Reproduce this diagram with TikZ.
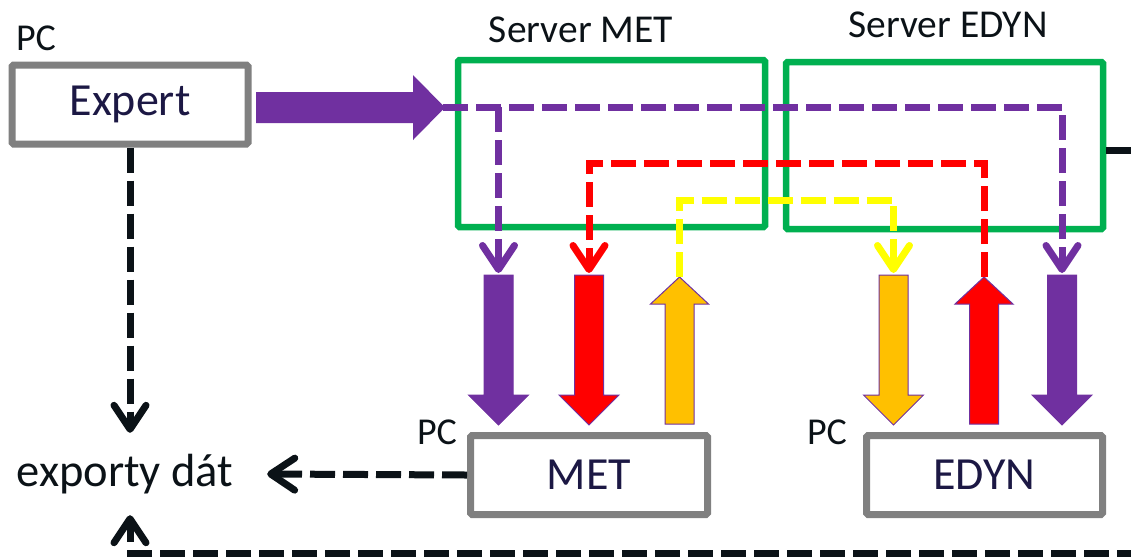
\documentclass[tikz,border=0pt]{standalone}
\usepackage{fontspec}
\setmainfont{Carlito}
\usetikzlibrary{arrows.meta}
\definecolor{pur}{HTML}{7030A0}
\definecolor{grn}{HTML}{00B050}
\definecolor{gry}{HTML}{808080}
\definecolor{org}{HTML}{FFC000}
\definecolor{ylw}{HTML}{FFFF00}
\definecolor{navy}{HTML}{1C1844}
\definecolor{ink}{HTML}{0B1217}
\newcommand{\myarrdown}[3]{%
  \fill[#2,draw=pur,line width=1pt] (#1-14.5,275) -- (#1+14.5,275) -- (#1+14.5,395) -- (#1+30,395) -- (#1,425) -- (#1-30,395) -- (#1-14.5,395) -- cycle;
  \coordinate (#3) at (#1,273);}
\newcommand{\myarrup}[3]{%
  \fill[#2,draw=pur,line width=1pt] (#1,277) -- (#1+29,304) -- (#1+14.5,304) -- (#1+14.5,424) -- (#1-14.5,424) -- (#1-14.5,304) -- (#1-29,304) -- cycle;
  \coordinate (#3) at (#1,277);}
\begin{document}
\begin{tikzpicture}[x=1pt,y=-1pt,
  pcbox/.style={draw=gry,line width=7pt,rounded corners=1.5pt,fill=white,inner sep=0pt,text=navy,font=\fontsize{46}{50}\selectfont},
  srvbox/.style={draw=grn,line width=6.5pt,rounded corners=1.5pt,inner sep=0pt},
  lbl/.style={text=ink,inner sep=0pt,font=\fontsize{38}{42}\selectfont},
  dline/.style={line width=7pt,dash pattern=on 25pt off 8pt},
  vtip/.style={-{Straight Barb[length=24pt,width=32pt,round]}},
]
\useasboundingbox (0,0) rectangle (1131,558);

% labels
\node[lbl] (pc1) at (36,38) {PC};
\node[lbl] (pc2) at (437,432) {PC};
\node[lbl] (pc3) at (827,432) {PC};
\node[lbl,font=\fontsize{39.5}{42}\selectfont] (smetl) at (581,30) {Server MET};
\node[lbl,font=\fontsize{39.5}{42}\selectfont] (sedynl) at (948,25) {Server EDYN};

% boxes
\node[pcbox,minimum width=236pt,minimum height=79pt] (expert) at (130,104.5) {Expert};
\node[pcbox,minimum width=237pt,minimum height=79pt] (met) at (589,475) {MET};
\node[pcbox,minimum width=236pt,minimum height=79pt] (edyn) at (984.5,475) {EDYN};
\node[srvbox,minimum width=307pt,minimum height=167pt] (smet) at (611.5,143.5) {};
\node[srvbox,minimum width=317pt,minimum height=167pt] (sedyn) at (944.5,145.5) {};
\node[text=ink,inner sep=0pt,minimum width=284pt,minimum height=82pt,font=\fontsize{46.5}{50}\selectfont] (export) at (125,474) {exporty dát};

% big purple arrow
\fill[pur] (256,92) -- (413,92) -- (413,75) -- (445,107.5) -- (413,140) -- (413,123) -- (256,123) -- cycle;
\coordinate (pstart) at (443,107);

% block arrows
\myarrdown{498.5}{pur}{a1}
\myarrdown{589}{red}{a2}
\myarrup{679.5}{org}{a3}
\myarrdown{893.5}{org}{a4}
\myarrup{984}{red}{a5}
\myarrdown{1062}{pur}{a6}

% dashed connectors
\draw[dline,pur,vtip] (pstart) -- (a6 |- pstart) -- (a6);
\draw[dline,pur,vtip] (a1 |- pstart) -- (a1);
\draw[dline,red,vtip] (a5) -- (984,163) -- (589,163) -- (a2);
\draw[dline,ylw,vtip] (a3) -- (679.5,200) -- (893.5,200) -- (a4);

\draw[dline,ink,vtip] (expert.south) -- (expert.south |- export.north);
\draw[dline,ink,vtip] (met.west) -- (export.east);
\draw[dline,ink,vtip] (sedyn.east |- 0,150) -- (1170,150) -- (1170,553) -- (130,553) -- (expert.south |- export.south);
\end{tikzpicture}
\end{document}
